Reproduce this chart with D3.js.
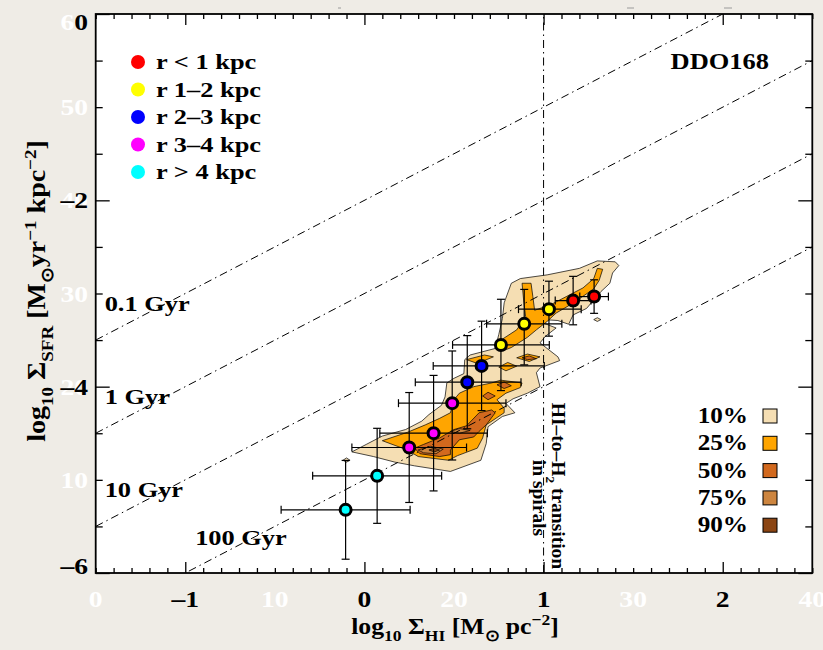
<!DOCTYPE html>
<html><head><meta charset="utf-8">
<script src="https://cdn.jsdelivr.net/npm/d3@7"></script>
<style>
html,body{margin:0;padding:0;background:#efece6;}
svg{display:block;}
text{font-family:"Liberation Serif","Times New Roman",Times,serif;font-weight:bold;}
</style></head><body>
<svg id="c" width="823" height="650"></svg>
<script>
// ---------------- DATA ----------------
const ringLabels = ["r < 1 kpc","r 1–2 kpc","r 2–3 kpc","r 3–4 kpc","r > 4 kpc"];
const ringColors = ["#ff0000","#ffff00","#0000ff","#ff00ff","#00ffff"];
const pointRing  = [0,0,1,1,1,2,2,3,3,3,4,4];
const logHI      = [1.282,1.165,1.030,0.892,0.762,0.654,0.574,0.490,0.386,0.250,0.071,-0.105];
const logSFR     = [-3.033,-3.076,-3.168,-3.326,-3.552,-3.777,-3.952,-4.177,-4.499,-4.653,-4.957,-5.322];
const errHIlo    = [0.08,0.10,0.17,0.21,0.27,0.27,0.29,0.30,0.30,0.32,0.36,0.36];
const errHIhi    = [0.08,0.10,0.18,0.21,0.27,0.35,0.30,0.30,0.30,0.32,0.36,0.36];
const errSFRlo   = [0.18,0.26,0.29,0.44,0.49,0.48,0.50,0.61,0.62,0.59,0.51,0.53];
const errSFRhi   = [0.18,0.26,0.30,0.37,0.49,0.48,0.50,0.56,0.62,0.59,0.51,0.53];

const depletionGyr    = [0.1, 1, 10, 100];
const depletionLabels = ["0.1 Gyr","1 Gyr","10 Gyr","100 Gyr"];
const transitionHI    = 1.0;

const contourLevels = ["10%","25%","50%","75%","90%"];
const contourColors = ["#f5deb3","#ffa500","#d2691e","#cd853f","#8b4513"];

// contour polygons, [log Sigma_HI, log Sigma_SFR]
const level10 = [
 [[0.82,-2.89],[0.87,-2.84],[1.02,-2.80],[1.20,-2.73],[1.30,-2.65],[1.40,-2.66],[1.42,-2.70],[1.385,-2.78],
  [1.37,-2.89],[1.32,-2.98],[1.24,-3.16],[1.165,-3.23],[1.14,-3.33],[1.08,-3.29],[1.00,-3.28],[0.99,-3.31],
  [1.07,-3.37],[1.01,-3.46],[0.98,-3.53],[1.08,-3.68],[1.09,-3.72],[0.98,-3.80],[0.96,-3.85],[0.98,-4.00],
  [0.91,-4.07],[0.83,-4.13],[0.79,-4.18],[0.84,-4.28],[0.77,-4.32],[0.69,-4.43],[0.68,-4.61],[0.65,-4.79],
  [0.48,-4.91],[0.28,-4.85],[0.17,-4.81],[0.05,-4.75],[-0.07,-4.70],[0.01,-4.62],[0.10,-4.53],[0.23,-4.46],
  [0.32,-4.37],[0.36,-4.30],[0.43,-4.20],[0.45,-4.11],[0.46,-3.96],[0.50,-3.91],[0.555,-3.86],[0.56,-3.71],
  [0.59,-3.66],[0.73,-3.59],[0.75,-3.44],[0.77,-3.27],[0.78,-3.10]],
 [[1.28,-3.28],[1.30,-3.26],[1.32,-3.28],[1.30,-3.30]],
 [[-0.12,-4.79],[-0.10,-4.765],[-0.08,-4.79],[-0.10,-4.81]]
];
const level25 = [
 [[0.77,-3.49],[0.85,-3.39],[0.90,-3.25],[0.89,-3.10],[0.88,-2.89],[0.93,-2.89],[0.94,-3.03],[0.95,-3.18],
  [1.04,-3.12],[1.13,-3.03],[1.22,-2.94],[1.28,-2.84],[1.30,-2.73],[1.33,-2.74],[1.31,-2.86],[1.28,-2.95],
  [1.22,-3.03],[1.15,-3.12],[1.07,-3.21],[1.02,-3.30],[0.96,-3.39],[0.91,-3.47],[0.82,-3.58],[0.78,-3.61],[0.75,-3.58]],
 [[0.57,-3.71],[0.67,-3.66],[0.72,-3.68],[0.63,-3.75]],
 [[0.75,-3.79],[0.80,-3.74],[0.85,-3.78],[0.79,-3.83]],
 [[0.85,-3.69],[0.91,-3.65],[0.98,-3.68],[0.92,-3.73]],
 [[0.10,-4.58],[0.24,-4.49],[0.34,-4.41],[0.42,-4.34],[0.48,-4.28],[0.50,-4.14],[0.53,-4.07],[0.61,-4.00],
  [0.71,-3.96],[0.76,-3.93],[0.88,-3.96],[0.87,-4.01],[0.79,-4.07],[0.74,-4.14],[0.78,-4.23],[0.78,-4.28],
  [0.68,-4.41],[0.66,-4.55],[0.63,-4.66],[0.52,-4.74],[0.47,-4.79],[0.30,-4.75],[0.24,-4.68]]
];
const level50 = [
 [[0.28,-4.66],[0.33,-4.62],[0.42,-4.55],[0.50,-4.46],[0.57,-4.42],[0.64,-4.28],[0.71,-4.25],[0.73,-4.28],
  [0.68,-4.41],[0.64,-4.48],[0.61,-4.54],[0.53,-4.57],[0.48,-4.68],[0.48,-4.73],[0.42,-4.75],[0.31,-4.72]],
 [[0.66,-4.10],[0.69,-4.06],[0.73,-4.10],[0.69,-4.14]],
 [[0.74,-3.98],[0.78,-3.95],[0.82,-3.99],[0.78,-4.02]],
 [[0.88,-3.69],[0.92,-3.67],[0.96,-3.70],[0.91,-3.71]]
];
const level75 = [
 [[0.30,-4.68],[0.37,-4.64],[0.44,-4.67],[0.40,-4.72],[0.33,-4.71]],
 [[0.48,-4.48],[0.53,-4.45],[0.59,-4.47],[0.53,-4.50]]
];
const level90 = [
 [[0.36,-4.68],[0.39,-4.66],[0.42,-4.68],[0.39,-4.70]]
];

const xTickLabels = [-1,0,1,2];
const yTickLabels = [0,-2,-4,-6];
const xGhostPos = [-1.5,-0.5,0.5,1.5,2.5], xGhostText = ["0","10","20","30","40"];
const yGhostPos = [0,-1,-2,-3,-4,-5,-6],   yGhostText = ["60","50","40","30","20","10","0"];

// ---------------- DRAWING ----------------
const W=823, H=650, L=95.7, R=812.3, T=14, B=573;
const x = d3.scaleLinear().domain([-1.5,2.5]).range([L,R]);
const y = d3.scaleLinear().domain([-6,0]).range([B,T]);
const svg = d3.select("#c");
const SX = 1.2;

svg.append("rect").attr("width",W).attr("height",H).attr("fill","#efece6");
svg.append("rect").attr("x",L).attr("y",T).attr("width",R-L).attr("height",B-T).attr("fill","#fff");
svg.append("clipPath").attr("id","pc").append("rect").attr("x",L).attr("y",T).attr("width",R-L).attr("height",B-T);
const plot = svg.append("g").attr("clip-path","url(#pc)");

// contours
const poly = d3.line().x(d=>x(d[0])).y(d=>y(d[1])).curve(d3.curveLinearClosed);
[level10,level25,level50,level75,level90].forEach((polys,i)=>{
  plot.selectAll(null).data(polys).enter().append("path")
    .attr("d",poly).attr("fill",contourColors[i]).attr("stroke","#000").attr("stroke-width",0.7).attr("stroke-linejoin","round");
});

// depletion-time lines
const dash = "8,4,1.5,4";
const dl = d3.line().x(d=>x(d[0])).y(d=>y(d[1]));
depletionGyr.forEach(t=>{
  const off = 6 - Math.log10(t*1e9);
  plot.append("path").attr("d",dl([[-1.5,-1.5+off],[2.5,2.5+off]]))
    .attr("fill","none").attr("stroke","#000").attr("stroke-width",1).attr("stroke-dasharray",dash);
});
plot.append("path").attr("d",dl([[transitionHI,-6],[transitionHI,0]]))
  .attr("fill","none").attr("stroke","#000").attr("stroke-width",1).attr("stroke-dasharray",dash);

function txt(parent, px, py, str, size, anchor, fill, sx){
  return parent.append("text").attr("transform",`translate(${px},${py}) scale(${sx},1)`)
    .attr("text-anchor",anchor).attr("font-size",size).attr("fill",fill).text(str);
}
function rich(parent, parts, size, transform, anchor){
  const t = parent.append("text").attr("transform",transform).attr("text-anchor",anchor).attr("font-size",size);
  let shift = 0;
  parts.forEach(([s,kind])=>{
    const target = kind==="sub"?0.3:kind==="sup"?-0.38:0;
    t.append("tspan").text(s).attr("dy",(target-shift)*size).attr("font-size",kind?size*0.68:size);
    shift = target;
  });
  return t;
}

// depletion labels
depletionLabels.forEach((lab,i)=>{
  const off = 6 - Math.log10(depletionGyr[i]*1e9);
  const lx = i===3 ? x(-0.945) : x(-1.45);
  const lineY = i===3 ? y(-0.945+off) : y(-1.5+off);
  txt(svg, lx, lineY-(i===3?23:29), lab, 22, "start", "#000", SX);
});

// transition label
rich(svg, [["HI–to–H"],["2","sub"],[" transition"]], 19.5, `translate(552,486) rotate(90)`, "middle");
rich(svg, [["in spirals"]], 19.5, `translate(533,498) rotate(90)`, "middle");

// error bars
const eb = svg.append("g").attr("stroke","#000").attr("stroke-width",1.2);
const cap = 4;
logHI.forEach((hx,i)=>{
  const sy = logSFR[i];
  const x0=x(hx-errHIlo[i]), x1=x(hx+errHIhi[i]), yc=y(sy);
  const y0=y(sy+errSFRhi[i]), y1=y(sy-errSFRlo[i]), xc=x(hx);
  eb.append("line").attr("x1",x0).attr("x2",x1).attr("y1",yc).attr("y2",yc);
  eb.append("line").attr("x1",x0).attr("x2",x0).attr("y1",yc-cap).attr("y2",yc+cap);
  eb.append("line").attr("x1",x1).attr("x2",x1).attr("y1",yc-cap).attr("y2",yc+cap);
  eb.append("line").attr("x1",xc).attr("x2",xc).attr("y1",y0).attr("y2",y1);
  eb.append("line").attr("x1",xc-cap).attr("x2",xc+cap).attr("y1",y0).attr("y2",y0);
  eb.append("line").attr("x1",xc-cap).attr("x2",xc+cap).attr("y1",y1).attr("y2",y1);
});
svg.append("g").selectAll("circle").data(logHI).enter().append("circle")
  .attr("cx",d=>x(d)).attr("cy",(d,i)=>y(logSFR[i])).attr("r",5.5)
  .attr("fill",(d,i)=>ringColors[pointRing[i]]).attr("stroke","#000").attr("stroke-width",3);

// axes ticks
const xMinor = d3.range(-15,26).map(d=>d/10).filter(v=>Math.abs(v-Math.round(v))>1e-6);
const xMajor = d3.range(-1,3);
const yAll = d3.range(-12,1).map(d=>d/2);
const yBig = yAll.filter(v=>v%2===0), ySmall = yAll.filter(v=>v%2!==0);
function ax(gen, tr, vals, len){
  const g = svg.append("g").attr("transform",tr).call(gen.tickValues(vals).tickSize(-len).tickFormat(""));
  g.select(".domain").remove();
  g.selectAll("line").attr("stroke","#000").attr("stroke-width",1.3);
}
ax(d3.axisBottom(x), `translate(0,${B})`, xMinor, 5);
ax(d3.axisBottom(x), `translate(0,${B})`, xMajor, 11);
ax(d3.axisTop(x), `translate(0,${T})`, xMinor, 5);
ax(d3.axisTop(x), `translate(0,${T})`, xMajor, 11);
ax(d3.axisLeft(y), `translate(${L},0)`, ySmall, 7);
ax(d3.axisLeft(y), `translate(${L},0)`, yBig, 14);
ax(d3.axisRight(y), `translate(${R},0)`, ySmall, 7);
ax(d3.axisRight(y), `translate(${R},0)`, yBig, 14);
svg.append("rect").attr("x",L).attr("y",T).attr("width",R-L).attr("height",B-T)
  .attr("fill","none").attr("stroke","#000").attr("stroke-width",1.8);

// tick labels (ghost white labels underneath)
const yc = v => Math.min(Math.max(y(v),21.5),565.5);
yGhostPos.forEach((v,i)=> txt(svg, 88, yc(v)+8, yGhostText[i], 23, "end", "#fff", SX));
xGhostPos.forEach((v,i)=> txt(svg, x(v), 607, xGhostText[i], 23, "middle", "#fff", SX));
yTickLabels.forEach(v=> txt(svg, 88, yc(v)+8, v===0?"0":"–"+Math.abs(v), 23, "end", "#000", SX));
xTickLabels.forEach(v=> txt(svg, x(v), 607, v<0?"–"+Math.abs(v):String(v), 23, "middle", "#000", SX));

// axis titles
rich(svg, [["log"],["10","sub"],[" Σ"],["HI","sub"],[" [M"],["⊙","sub"],[" pc"],["−2","sup"],["]"]],
  23, `translate(455,634) scale(1.12,1)`, "middle");
rich(svg, [["log"],["10","sub"],[" Σ"],["SFR","sub"],[" [M"],["⊙","sub"],["yr"],["−1","sup"],[" kpc"],["−2","sup"],["]"]],
  25, `translate(45,291) rotate(-90) scale(1.12,1)`, "middle");

// ring legend
ringLabels.forEach((lab,i)=>{
  svg.append("circle").attr("cx",138).attr("cy",62+27.5*i).attr("r",7).attr("fill",ringColors[i]);
  txt(svg, 156, 69+27.5*i, lab, 22, "start", "#000", SX);
});
txt(svg, 769, 69, "DDO168", 23, "end", "#000", 1.15);

// contour legend
contourLevels.forEach((lab,i)=>{
  txt(svg, 748, 423+27.3*i, lab, 24, "end", "#000", 1.05);
  svg.append("rect").attr("x",763).attr("y",409+27.3*i).attr("width",14).attr("height",14)
    .attr("fill",contourColors[i]).attr("stroke","#000").attr("stroke-width",1);
});

// small marks above the frame
[[338,341],[627,634],[724,732]].forEach(s=> svg.append("line").attr("x1",s[0]).attr("x2",s[1])
  .attr("y1",8).attr("y2",8).attr("stroke","#9a9a9a").attr("stroke-width",1));
</script>
</body></html>
